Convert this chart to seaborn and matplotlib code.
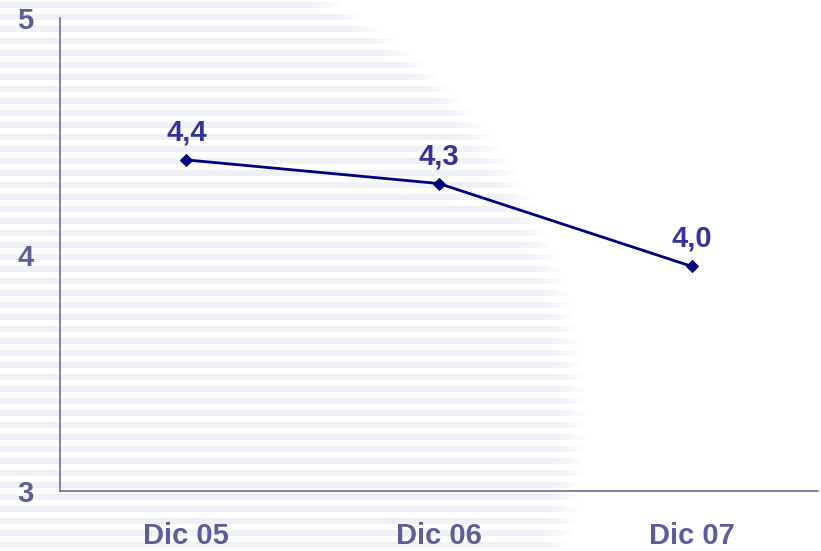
import numpy as np
import pandas as pd
import matplotlib
matplotlib.use("Agg")
import matplotlib.pyplot as plt
from matplotlib.ticker import FixedLocator, NullFormatter, FixedFormatter
import seaborn as sns

# ---- data ----
categories = ["Dic 05", "Dic 06", "Dic 07"]
values = [4.4, 4.3, 3.95]
value_labels = ["4,4", "4,3", "4,0"]
y_ticks = [3, 4, 5]

sns.set_style("white")
plt.rcParams["font.family"] = ["Liberation Sans", "DejaVu Sans"]

W, H = 821, 551
fig = plt.figure(figsize=(W / 100, H / 100), dpi=100)

# decorative striped background (figure-level)
bg = fig.add_axes([0, 0, 1, 1], zorder=-5)
bg.set_xlim(0, W)
bg.set_ylim(H, 0)
bg.axis("off")
cx, cy, R = 112, 420, 473
period, thick = 12, 6
y0 = 2
while y0 < H:
    yc = y0 + thick / 2
    dy = yc - cy
    xr = cx + np.sqrt(max(R * R - dy * dy, 0))
    bg.fill_between([0, xr - 25], y0, y0 + thick, color="#f0f0f7", lw=0)
    # soft fading edge
    for k in range(5):
        bg.fill_between([xr - 25 + 5 * k, xr - 20 + 5 * k], y0, y0 + thick,
                        color="#f0f0f7", alpha=1 - (k + 1) / 6, lw=0)
    y0 += period

ax = fig.add_axes([60 / W, 1 - 491 / H, (818 - 60) / W, (491 - 18) / H])
ax.patch.set_alpha(0)

df = pd.DataFrame({"cat": categories, "val": values})
sns.lineplot(data=df, x="cat", y="val", ax=ax, sort=False, color="#000080",
             lw=2.0, marker="D", markersize=6.5, markeredgecolor="#000080")

ax.set_xlim(-0.5, len(categories) - 0.5)
ax.set_ylim(min(y_ticks), max(y_ticks))
ax.set_xlabel("")
ax.set_ylabel("")

axis_col = "#6a6aa0"
label_col = "#5e5e96"
for s in ["top", "right"]:
    ax.spines[s].set_visible(False)
for s in ["left", "bottom"]:
    ax.spines[s].set_color(axis_col)
    ax.spines[s].set_linewidth(1.2)

# x: major ticks at category boundaries, labels at centers
ax.xaxis.set_major_locator(FixedLocator(np.arange(-0.5, len(categories), 1.0)))
ax.xaxis.set_major_formatter(NullFormatter())
ax.xaxis.set_minor_locator(FixedLocator(np.arange(len(categories))))
ax.xaxis.set_minor_formatter(FixedFormatter(categories))
ax.tick_params(axis="x", which="major", direction="out", length=7, width=1.2,
               color=axis_col)
ax.tick_params(axis="x", which="minor", length=0, pad=22, labelsize=21,
               labelcolor=label_col)
for t in ax.xaxis.get_minorticklabels():
    t.set_fontweight("bold")

ax.set_yticks(y_ticks)
ax.set_yticklabels([str(v) for v in y_ticks], fontweight="bold")
ax.tick_params(axis="y", direction="out", length=7, width=1.2, color=axis_col,
               pad=12, labelsize=21, labelcolor=label_col)

for i, (v, lab) in enumerate(zip(values, value_labels)):
    ax.annotate(lab, (i, v), xytext=(0, 14), textcoords="offset points",
                ha="center", va="baseline", fontsize=21, fontweight="bold",
                color="#333399")

fig.savefig("out.png", dpi=100)
